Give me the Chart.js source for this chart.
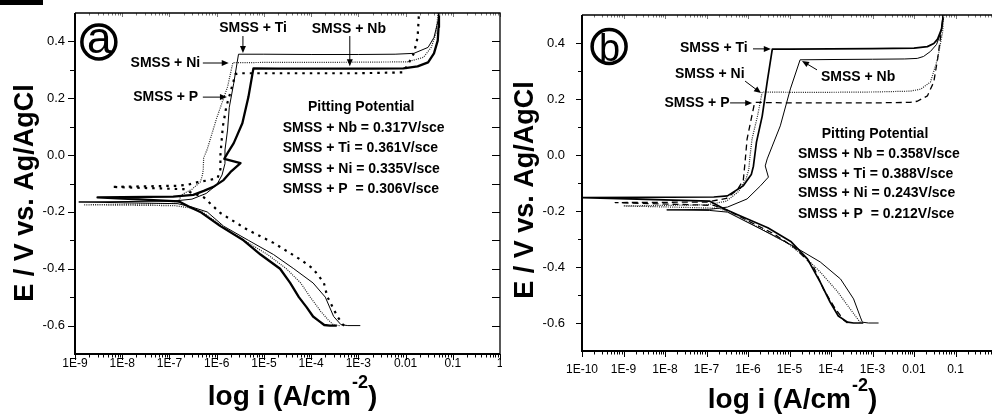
<!DOCTYPE html>
<html>
<head>
<meta charset="utf-8">
<script src="https://cdn.jsdelivr.net/npm/chart.js@4.4.1/dist/chart.umd.min.js"></script>
<style>
  html, body { margin: 0; padding: 0; background: #fff; }
  body { width: 992px; height: 414px; overflow: hidden; position: relative; }
  #bar { position: absolute; left: 0; top: 0; width: 43px; height: 5px; background: #000; }
  canvas { position: absolute; top: 0; }
  #chartA { left: 0; width: 502px; height: 414px; }
  #chartB { left: 500px; width: 510px; height: 414px; }
</style>
</head>
<body>
<div id="bar"></div>
<canvas id="chartA" width="502" height="414"></canvas>
<canvas id="chartB" width="510" height="414"></canvas>
<script>
const FONT = '"Liberation Sans", Arial, Helvetica, sans-serif';

// tick values / labels
const yTicks = [-0.6, -0.4, -0.2, 0, 0.2, 0.4];
const yLabels = ["-0.6", "-0.4", "-0.2", "0.0", "0.2", "0.4"];
const xTicksA = [1e-9, 1e-8, 1e-7, 1e-6, 1e-5, 1e-4, 1e-3, 0.01, 0.1, 1];
const xLabelsA = ["1E-9", "1E-8", "1E-7", "1E-6", "1E-5", "1E-4", "1E-3", "0.01", "0.1", "1"];
const xTicksB = [1e-10, 1e-9, 1e-8, 1e-7, 1e-6, 1e-5, 1e-4, 1e-3, 0.01, 0.1, 1];
const xLabelsB = ["1E-10", "1E-9", "1E-8", "1E-7", "1E-6", "1E-5", "1E-4", "1E-3", "0.01", "0.1", "1"];

// panel (a): current density (A/cm2) and potential (V)
const aNbI = [3.5e-4, 2.5e-4, 1.9e-4, 1.5e-4, 1.1e-4, 8e-5, 5.5e-5, 3.6e-5, 2.2e-5, 8.5e-6, 3.7e-6, 1.2e-6, 4.5e-7, 2.5e-7, 1.6e-7, 3e-9, 1.2e-7, 3.2e-7, 5.5e-7, 8.5e-7, 1.4e-6, 1.95e-6, 3.2e-6, 1.45e-6, 1.7e-6, 2.3e-6, 3.5e-6, 4.7e-6, 6e-6, 2e-5, 2e-4, 2e-3, 9e-3, 0.018, 0.03, 0.04, 0.048, 0.05, 0.051];
const aNbE = [-0.6, -0.6, -0.598, -0.585, -0.568, -0.535, -0.5, -0.45, -0.4, -0.35, -0.3, -0.25, -0.2, -0.18, -0.163, -0.149, -0.146, -0.14, -0.125, -0.112, -0.088, -0.06, -0.028, -0.013, 0.007, 0.042, 0.112, 0.204, 0.305, 0.304, 0.304, 0.304, 0.305, 0.312, 0.326, 0.358, 0.403, 0.45, 0.5];
const aTiI = [1.1e-3, 6e-4, 4.3e-4, 3e-4, 2e-4, 1.1e-4, 4.3e-5, 1.6e-5, 4.7e-6, 1.4e-6, 6.3e-7, 3e-7, 1.5e-7, 1.2e-9, 1.2e-7, 3e-7, 6e-7, 1e-6, 1.3e-6, 1.5e-6, 1.5e-6, 1.7e-6, 1.85e-6, 2.3e-6, 2.9e-6, 1e-5, 1e-4, 1e-3, 6e-3, 0.015, 0.03, 0.04, 0.049, 0.05];
const aTiE = [-0.6, -0.6, -0.597, -0.568, -0.5, -0.45, -0.4, -0.35, -0.3, -0.25, -0.2, -0.183, -0.171, -0.165, -0.162, -0.155, -0.135, -0.105, -0.07, -0.03, 0.018, 0.088, 0.168, 0.253, 0.355, 0.355, 0.354, 0.354, 0.355, 0.358, 0.379, 0.414, 0.474, 0.5];
const aNiI = [4e-4, 3e-4, 2.3e-4, 1.6e-4, 9.6e-5, 6e-5, 3e-5, 1.2e-5, 3.8e-6, 1.3e-6, 5e-7, 2.5e-7, 1.3e-7, 1.6e-9, 1.5e-7, 1.8e-7, 3e-7, 4.5e-7, 5e-7, 5.2e-7, 5.3e-7, 6.3e-7, 1e-6, 1.7e-6, 2.2e-6, 1e-5, 1e-4, 1e-3, 0.011, 0.024, 0.035, 0.044, 0.049];
const aNiE = [-0.6, -0.598, -0.58, -0.55, -0.5, -0.45, -0.4, -0.35, -0.3, -0.25, -0.2, -0.185, -0.178, -0.175, -0.17, -0.14, -0.12, -0.095, -0.07, -0.05, -0.01, 0.02, 0.13, 0.24, 0.325, 0.326, 0.326, 0.327, 0.328, 0.344, 0.379, 0.428, 0.5];
const aPI = [5e-4, 4.7e-4, 3.6e-4, 2.2e-4, 1.86e-4, 1.1e-4, 6e-5, 1.6e-5, 4.5e-6, 1.2e-6, 5.2e-7, 3e-7, 2e-7, 6e-9, 1.5e-7, 2.5e-7, 4e-7, 7e-7, 1.05e-6, 1.2e-6, 1.2e-6, 1.35e-6, 1.6e-6, 1.95e-6, 2.5e-6, 3e-6, 1e-5, 1e-4, 1e-3, 8.7e-3, 0.011, 0.015, 0.018, 0.019, 0.0192];
const aPE = [-0.6, -0.596, -0.568, -0.498, -0.449, -0.4, -0.368, -0.309, -0.263, -0.204, -0.147, -0.133, -0.12, -0.112, -0.108, -0.104, -0.095, -0.088, -0.08, -0.05, 0.0, 0.1, 0.17, 0.22, 0.285, 0.288, 0.288, 0.288, 0.288, 0.291, 0.316, 0.358, 0.414, 0.484, 0.5];

// panel (b)
const bNbI = [1.4e-3, 8e-4, 5.7e-4, 5.1e-4, 3.5e-4, 1.7e-4, 5.5e-5, 1.23e-5, 2e-6, 3.2e-7, 1.2e-7, 1.1e-8, 1.2e-7, 3.2e-7, 9.5e-7, 2e-6, 3.1e-6, 2.6e-6, 2.9e-6, 3.85e-6, 6e-6, 1.05e-5, 1.8e-5, 1e-4, 1e-3, 6e-3, 0.012, 0.017, 0.025, 0.035, 0.045, 0.05];
const bNbE = [-0.6, -0.6, -0.597, -0.579, -0.514, -0.443, -0.382, -0.325, -0.264, -0.204, -0.198, -0.196, -0.194, -0.186, -0.157, -0.11, -0.079, -0.039, -0.014, 0.032, 0.104, 0.236, 0.34, 0.341, 0.342, 0.343, 0.345, 0.352, 0.37, 0.395, 0.44, 0.5];
const bTiI = [6e-4, 3.5e-4, 2.5e-4, 1.5e-4, 9.5e-5, 5.5e-5, 2.7e-5, 1.1e-5, 3e-6, 6e-7, 2.5e-7, 1.2e-7, 1e-10, 1.5e-7, 3.2e-7, 7.7e-7, 1.2e-6, 1.35e-6, 1.6e-6, 2.2e-6, 2.9e-6, 3.85e-6, 1e-5, 1e-4, 1e-3, 1e-2, 0.021, 0.03, 0.037, 0.046, 0.051];
const bTiE = [-0.6, -0.6, -0.597, -0.575, -0.525, -0.454, -0.371, -0.31, -0.26, -0.215, -0.19, -0.165, -0.152, -0.15, -0.146, -0.11, -0.07, -0.04, 0.046, 0.139, 0.261, 0.378, 0.378, 0.379, 0.38, 0.382, 0.387, 0.398, 0.414, 0.45, 0.5];
const bNiI = [5.1e-4, 4.6e-4, 2.9e-4, 1.4e-4, 5.5e-5, 2.2e-5, 8e-6, 2.2e-6, 5e-7, 2e-7, 1e-9, 1e-7, 3e-7, 6e-7, 9e-7, 1.05e-6, 1.1e-6, 1.25e-6, 1.7e-6, 2.2e-6, 1e-5, 1e-4, 1e-3, 8e-3, 0.0145, 0.025, 0.037, 0.049, 0.052];
const bNiE = [-0.598, -0.59, -0.55, -0.486, -0.418, -0.36, -0.31, -0.265, -0.215, -0.19, -0.182, -0.178, -0.165, -0.13, -0.085, -0.05, -0.014, 0.057, 0.14, 0.225, 0.224, 0.224, 0.225, 0.228, 0.235, 0.261, 0.343, 0.44, 0.5];
const bPI = [2.5e-4, 2e-4, 1.15e-4, 6.6e-5, 3.7e-5, 1.3e-5, 4e-6, 1e-6, 3.5e-7, 1.5e-7, 6.3e-10, 1e-7, 3e-7, 5.5e-7, 7.7e-7, 8.5e-7, 9.5e-7, 1.2e-6, 1.45e-6, 1e-5, 1e-4, 1e-3, 8e-3, 0.012, 0.021, 0.03, 0.037, 0.044, 0.051];
const bPE = [-0.6, -0.589, -0.539, -0.479, -0.396, -0.33, -0.28, -0.235, -0.2, -0.18, -0.17, -0.168, -0.155, -0.125, -0.09, -0.025, 0.057, 0.13, 0.188, 0.186, 0.186, 0.186, 0.188, 0.192, 0.211, 0.261, 0.343, 0.425, 0.5];

const pts = (I, E) => I.map((v, k) => ({ x: v, y: E[k] }));

function arrow(ctx, x1, y1, x2, y2) {
  const ang = Math.atan2(y2 - y1, x2 - x1), L = 7, W = 3;
  const c = Math.cos(ang), s = Math.sin(ang);
  ctx.lineWidth = 1;
  ctx.beginPath();
  ctx.moveTo(x1, y1);
  ctx.lineTo(x2 - L * 0.8 * c, y2 - L * 0.8 * s);
  ctx.stroke();
  ctx.beginPath();
  ctx.moveTo(x2, y2);
  ctx.lineTo(x2 - L * c + W * s, y2 - L * s - W * c);
  ctx.lineTo(x2 - L * c - W * s, y2 - L * s + W * c);
  ctx.closePath();
  ctx.fill();
}

function framePlugin(o) {
  return {
    id: 'frame',
    afterDraw(chart) {
      const { ctx, chartArea: a } = chart;
      const xs = chart.scales.x, ys = chart.scales.y;
      const X = v => xs.getPixelForValue(v), Y = v => ys.getPixelForValue(v);
      ctx.save();
      ctx.strokeStyle = '#000';
      ctx.fillStyle = '#000';

      // bottom / top ticks
      ctx.lineWidth = 1;
      ctx.beginPath();
      o.xTicks.forEach((t, i) => {
        const p = Math.round(X(t)) + 0.5;
        ctx.moveTo(p, a.bottom); ctx.lineTo(p, a.bottom + 6);
        if (i < o.xTicks.length - 1) {
          for (let m = 2; m < 10; m++) {
            const q = Math.round(X(t * m)) + 0.5;
            ctx.moveTo(q, a.bottom); ctx.lineTo(q, a.bottom + 3.5);
          }
        }
      });
      ctx.stroke();
      ctx.strokeStyle = '#777';
      ctx.beginPath();
      o.xTicks.forEach((t, i) => {
        const p = Math.round(X(t)) + 0.5;
        ctx.moveTo(p, a.top); ctx.lineTo(p, a.top + 4);
        if (i < o.xTicks.length - 1) {
          for (let m = 2; m < 10; m++) {
            const q = Math.round(X(t * m)) + 0.5;
            ctx.moveTo(q, a.top); ctx.lineTo(q, a.top + 2.5);
          }
        }
      });
      ctx.stroke();

      // left / right ticks
      ctx.strokeStyle = '#000';
      ctx.beginPath();
      yTicks.forEach((t, i) => {
        const p = Math.round(Y(t)) + 0.5;
        ctx.moveTo(a.left - o.yMajor, p); ctx.lineTo(a.left, p);
        if (o.rightTicks) { ctx.moveTo(a.right - 8, p); ctx.lineTo(a.right, p); }
        if (i < yTicks.length - 1) {
          const q = Math.round(Y((t + yTicks[i + 1]) / 2)) + 0.5;
          ctx.moveTo(a.left - o.yMinor, q); ctx.lineTo(a.left, q);
          if (o.rightTicks) { ctx.moveTo(a.right - 8, q); ctx.lineTo(a.right, q); }
        }
      });
      ctx.stroke();

      // frame
      ctx.lineWidth = 2;
      ctx.beginPath();
      ctx.moveTo(a.left, a.top); ctx.lineTo(a.left, a.bottom); ctx.lineTo(a.right, a.bottom);
      ctx.stroke();
      ctx.lineWidth = 1.3;
      ctx.beginPath();
      ctx.moveTo(a.left, a.top); ctx.lineTo(a.right, a.top); ctx.lineTo(a.right, a.bottom);
      ctx.stroke();

      // y title
      ctx.save();
      ctx.translate(o.yTitle.x, o.yTitle.y);
      ctx.rotate(-Math.PI / 2);
      ctx.font = 'bold 27px ' + FONT;
      ctx.textAlign = 'center';
      ctx.textBaseline = 'alphabetic';
      ctx.fillText('E / V vs. Ag/AgCl', 0, 0);
      ctx.restore();

      // x title with superscript
      const main = 'log i (A/cm', sup = '-2', close = ')';
      ctx.textAlign = 'left';
      ctx.textBaseline = 'alphabetic';
      ctx.font = 'bold 28px ' + FONT;
      const w1 = ctx.measureText(main).width, w3 = ctx.measureText(close).width;
      ctx.font = 'bold 18px ' + FONT;
      const w2 = ctx.measureText(sup).width;
      const x0 = o.xTitle.x - (w1 + w2 + w3) / 2;
      ctx.font = 'bold 28px ' + FONT;
      ctx.fillText(main, x0, o.xTitle.y);
      ctx.font = 'bold 18px ' + FONT;
      ctx.fillText(sup, x0 + w1 + 1, o.xTitle.y - 17);
      ctx.font = 'bold 28px ' + FONT;
      ctx.fillText(close, x0 + w1 + w2 + 1, o.xTitle.y);

      // panel letter in a circle
      const L = o.letter;
      const cx = X(L.x), cy = Y(L.y);
      ctx.lineWidth = 3.5;
      ctx.beginPath();
      ctx.arc(cx, cy, 17, 0, Math.PI * 2);
      ctx.stroke();
      ctx.font = L.size + 'px ' + FONT;
      ctx.textAlign = 'center';
      ctx.fillText(L.t, cx + 0.5, cy + L.dy);

      // labels
      ctx.font = 'bold 14px ' + FONT;
      ctx.textBaseline = 'middle';
      o.labels.forEach(l => {
        ctx.textAlign = l.align;
        ctx.fillText(l.t, X(l.x), Y(l.y));
      });
      o.arrows.forEach(r => arrow(ctx, X(r[0]), Y(r[1]), X(r[2]), Y(r[3])));
      ctx.restore();
    }
  };
}

function makeChart(id, o) {
  return new Chart(document.getElementById(id), {
    type: 'scatter',
    data: {
      datasets: o.series.map(s => ({
        data: pts(s.I, s.E),
        showLine: true,
        borderColor: s.color || '#000',
        borderWidth: s.w,
        borderDash: s.dash || [],
        borderJoinStyle: 'round',
        pointRadius: 0,
        fill: false,
        tension: 0
      }))
    },
    options: {
      responsive: false,
      animation: false,
      devicePixelRatio: 1,
      layout: { padding: o.pad },
      plugins: { legend: { display: false }, tooltip: { enabled: false } },
      scales: {
        x: {
          type: 'logarithmic',
          min: o.xTicks[0],
          max: o.xTicks[o.xTicks.length - 1],
          grid: { display: false, drawTicks: false },
          border: { display: false },
          afterBuildTicks: s => { s.ticks = o.xTicks.map(v => ({ value: v })); },
          afterFit: s => { s.height = 60; s.paddingLeft = 0; s.paddingRight = 0; },
          ticks: {
            autoSkip: false, maxRotation: 0, minRotation: 0,
            padding: o.xPad, color: '#000',
            font: { family: FONT, size: 12 },
            callback: (v, i) => o.xLabels[i]
          }
        },
        y: {
          type: 'linear',
          min: -0.7,
          max: 0.5,
          grid: { display: false, drawTicks: false },
          border: { display: false },
          afterBuildTicks: s => { s.ticks = yTicks.map(v => ({ value: v })); },
          afterFit: s => { s.width = o.yWidth; s.paddingTop = 0; s.paddingBottom = 0; },
          ticks: {
            padding: o.yPad, color: '#000',
            font: { family: FONT, size: 13 },
            callback: (v, i) => yLabels[i]
          }
        }
      }
    },
    plugins: [framePlugin(o)]
  });
}

makeChart('chartA', {
  pad: { left: 0, top: 13, right: 2, bottom: 0 },
  yWidth: 75, yPad: 10, xPad: 2, yMajor: 7, yMinor: 5, rightTicks: true,
  xTicks: xTicksA, xLabels: xLabelsA,
  yTitle: { x: 33, y: 193 }, xTitle: { x: 292, y: 405 },
  letter: { t: 'a', x: 3.2e-9, y: 0.398, size: 44, dy: 11 },
  series: [
    { I: aNbI, E: aNbE, w: 2.3 },
    { I: aTiI, E: aTiE, w: 1 },
    { I: aNiI, E: aNiE, w: 1.2, dash: [1, 1.2], color: '#222' },
    { I: aPI, E: aPE, w: 2.2, dash: [2.5, 5] }
  ],
  labels: [
    { t: 'SMSS + Ti', x: 5.9e-6, y: 0.447, align: 'center' },
    { t: 'SMSS + Nb', x: 6.3e-4, y: 0.444, align: 'center' },
    { t: 'SMSS + Ni', x: 8.2e-8, y: 0.324, align: 'center' },
    { t: 'SMSS + P', x: 8.3e-8, y: 0.204, align: 'center' },
    { t: 'Pitting Potential', x: 1.15e-3, y: 0.169, align: 'center' },
    { t: 'SMSS + Nb = 0.317V/sce', x: 2.5e-5, y: 0.095, align: 'left' },
    { t: 'SMSS + Ti = 0.361V/sce', x: 2.5e-5, y: 0.025, align: 'left' },
    { t: 'SMSS + Ni = 0.335V/sce', x: 2.5e-5, y: -0.049, align: 'left' },
    { t: 'SMSS + P  = 0.306V/sce', x: 2.5e-5, y: -0.119, align: 'left' }
  ],
  arrows: [
    [3.6e-6, 0.419, 3.6e-6, 0.359],
    [6.6e-4, 0.419, 6.6e-4, 0.313],
    [5.1e-7, 0.324, 1.8e-6, 0.324],
    [5.1e-7, 0.204, 1.65e-6, 0.204]
  ]
});

makeChart('chartB', {
  pad: { left: 0, top: 15, right: 13, bottom: 3 },
  yWidth: 82, yPad: 17, xPad: 11, yMajor: 6, yMinor: 4, rightTicks: false,
  xTicks: xTicksB, xLabels: xLabelsB,
  yTitle: { x: 33, y: 190 }, xTitle: { x: 292, y: 408 },
  letter: { t: 'b', x: 4.5e-10, y: 0.3875, size: 38, dy: 14 },
  series: [
    { I: bNbI, E: bNbE, w: 1 },
    { I: bTiI, E: bTiE, w: 1.7 },
    { I: bNiI, E: bNiE, w: 1.2, dash: [1, 1.2], color: '#222' },
    { I: bPI, E: bPE, w: 1.3, dash: [6, 4] }
  ],
  labels: [
    { t: 'SMSS + Ti', x: 1.5e-7, y: 0.382, align: 'center' },
    { t: 'SMSS + Ni', x: 1.2e-7, y: 0.289, align: 'center' },
    { t: 'SMSS + P', x: 5.9e-8, y: 0.186, align: 'center' },
    { t: 'SMSS + Nb', x: 4.5e-4, y: 0.279, align: 'center' },
    { t: 'Pitting Potential', x: 1.15e-3, y: 0.075, align: 'center' },
    { t: 'SMSS + Nb = 0.358V/sce', x: 1.6e-5, y: 0.004, align: 'left' },
    { t: 'SMSS + Ti = 0.388V/sce', x: 1.6e-5, y: -0.068, align: 'left' },
    { t: 'SMSS + Ni = 0.243V/sce', x: 1.6e-5, y: -0.136, align: 'left' },
    { t: 'SMSS + P  = 0.212V/sce', x: 1.6e-5, y: -0.211, align: 'left' }
  ],
  arrows: [
    [1.32e-6, 0.379, 3.55e-6, 0.379],
    [8.5e-7, 0.264, 2.06e-6, 0.221],
    [3.7e-7, 0.186, 1.26e-6, 0.186],
    [4.6e-5, 0.304, 2e-5, 0.336]
  ]
});
</script>
</body>
</html>
